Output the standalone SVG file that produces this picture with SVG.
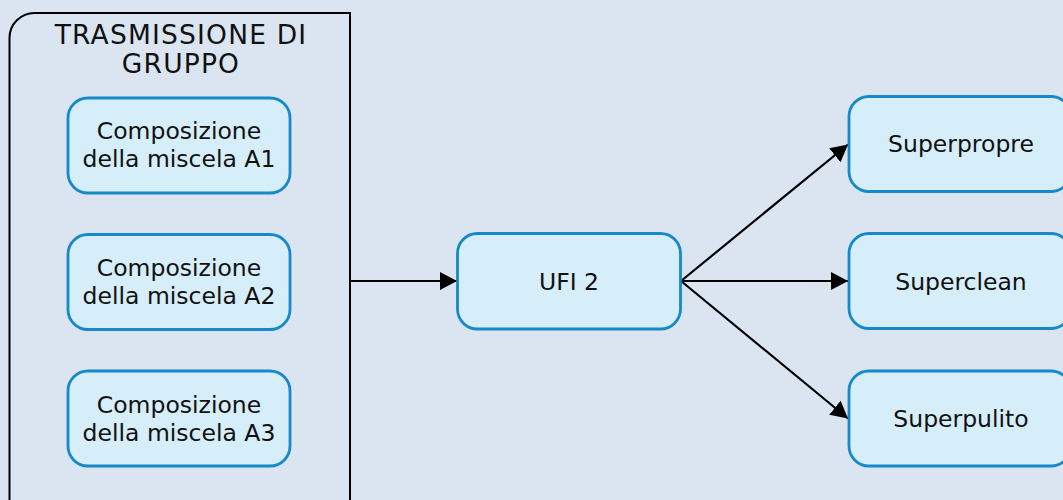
<svg xmlns="http://www.w3.org/2000/svg" width="1063" height="500" viewBox="0 0 1063 500">
<style>
.node rect{fill:#d6edfa;stroke:#1689c8;stroke-width:2.8}
.node text{font-family:"DejaVu Sans",Verdana,sans-serif;font-size:23.5px;fill:#111;text-anchor:middle}
.title{font-family:"DejaVu Sans",Verdana,sans-serif;font-size:26.5px;letter-spacing:1.2px;fill:#111;text-anchor:middle}
.conn line{stroke:#000;stroke-width:2.2;fill:none}
</style>
<defs>
<marker id="arr" markerUnits="userSpaceOnUse" markerWidth="18" markerHeight="18" refX="17" refY="9" orient="auto" viewBox="0 0 18 18">
<path d="M0,0 L17,9 L0,18 z" fill="#000"/>
</marker>
</defs>
<rect width="1063" height="500" fill="#dbe5f1"/>
<g id="container">
<path d="M9.5,510 L9.5,38 A25,25 0 0 1 34.5,13 L350,13 L350,510" fill="none" stroke="#000" stroke-width="2"/>
<text class="title" x="181" y="44">TRASMISSIONE DI</text>
<text class="title" x="181" y="73">GRUPPO</text>
</g>
<g id="connectors" class="conn">
<line x1="350" y1="281" x2="457" y2="281" marker-end="url(#arr)"/>
<line x1="681" y1="281" x2="848" y2="144.5" marker-end="url(#arr)"/>
<line x1="681" y1="281" x2="848" y2="281" marker-end="url(#arr)"/>
<line x1="681" y1="281" x2="848" y2="418.5" marker-end="url(#arr)"/>
</g>
<g id="nodeA1" class="node">
<rect x="68" y="98" width="222" height="95" rx="20"/>
<text x="179" y="138.5">Composizione</text>
<text x="179" y="166.5">della miscela A1</text>
</g>
<g id="nodeA2" class="node">
<rect x="68" y="234.5" width="222" height="95" rx="20"/>
<text x="179" y="276">Composizione</text>
<text x="179" y="303.5">della miscela A2</text>
</g>
<g id="nodeA3" class="node">
<rect x="68" y="371" width="222" height="95" rx="20"/>
<text x="179" y="412.5">Composizione</text>
<text x="179" y="441">della miscela A3</text>
</g>
<g id="nodeUFI2" class="node">
<rect x="457.5" y="233.5" width="223" height="95.5" rx="20"/>
<text x="569" y="290">UFI 2</text>
</g>
<g id="nodeSuperpropre" class="node">
<rect x="849" y="96.5" width="222" height="95" rx="20"/>
<text x="961" y="152">Superpropre</text>
</g>
<g id="nodeSuperclean" class="node">
<rect x="849" y="233.5" width="222" height="95" rx="20"/>
<text x="961" y="290">Superclean</text>
</g>
<g id="nodeSuperpulito" class="node">
<rect x="849" y="371" width="222" height="95" rx="20"/>
<text x="961" y="427">Superpulito</text>
</g>
</svg>
